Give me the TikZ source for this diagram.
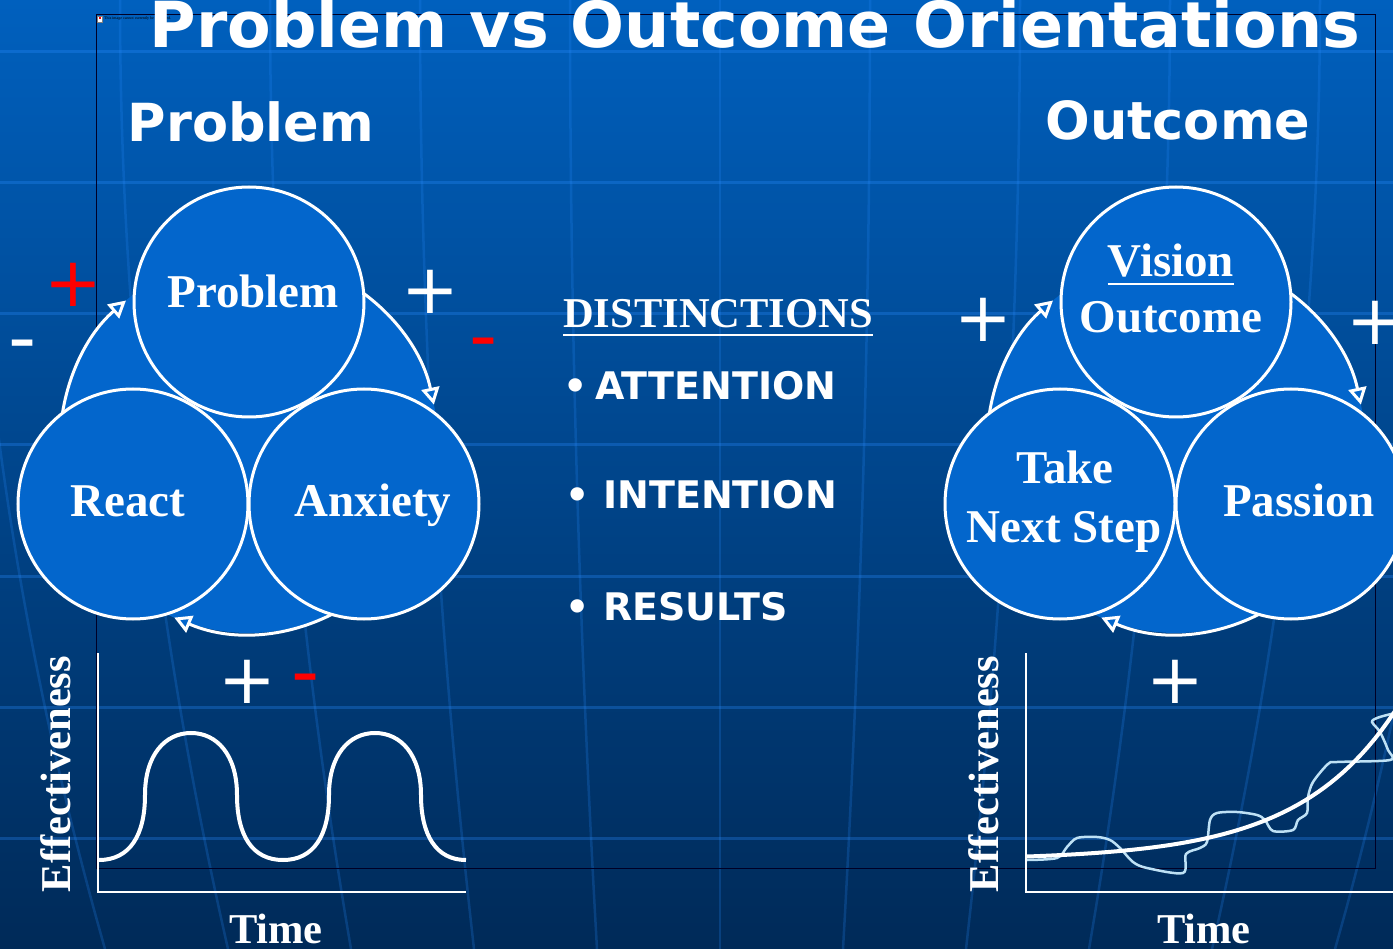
\documentclass[tikz,border=0pt]{standalone}
\usepackage{fontspec}
\setmainfont{Liberation Serif}
\newfontfamily\headfont{DejaVu Sans}
\usetikzlibrary{arrows.meta, positioning, calc}
\definecolor{bgtop}{RGB}{0,96,190}
\definecolor{bgbottom}{RGB}{0,42,88}
\definecolor{circblue}{RGB}{3,102,204}
\definecolor{gridblue}{RGB}{40,140,255}
\definecolor{wavelight}{RGB}{190,225,245}
\definecolor{signred}{RGB}{255,0,0}

\begin{document}
\begin{tikzpicture}[x=1pt, y=-1pt,
    bubble/.style={circle, draw=white, fill=circblue, line width=3pt, minimum size=230pt, inner sep=0pt},
    word/.style={text=white, inner sep=0pt, anchor=base, font=\bfseries\fontsize{47}{52}\selectfont},
    heading/.style={text=white, inner sep=0pt, anchor=base, font=\headfont\bfseries\fontsize{52.5}{60}\selectfont},
    item/.style={text=white, inner sep=0pt, anchor=base west, font=\headfont\bfseries\fontsize{38}{44}\selectfont},
    axislabel/.style={text=white, inner sep=0pt, anchor=base, font=\bfseries\fontsize{42.5}{48}\selectfont},
    sign/.style={inner sep=0pt, text=white, font=\headfont\fontsize{69}{70}\selectfont},
    minus/.style={sign, font=\headfont\fontsize{78}{80}\selectfont},
    cyc/.style={draw=white, line width=3pt, -{Triangle[length=17pt, width=18pt, fill=circblue]}},
    axis/.style={draw=white, line width=2pt},
    faint/.style={draw=gridblue, opacity=0.3, line width=3pt}
  ]
  \useasboundingbox (0,0) rectangle (1393,949);
  \shade[top color=bgtop, bottom color=bgbottom] (0,0) rectangle (1393,949);

  % globe lines in the background
  \foreach \y in {52,183,...,839}
    \draw[faint] (0,\y) -- (1393,\y);
  \foreach \d in {-750,-600,...,750}
    \draw[faint, opacity=0.22, line width=2.5pt] plot[domain=0:949, samples=25, smooth] ({720+\d*(1-0.18*(\x/949)^2)}, \x);

  % frame of the missing picture
  \draw[black!85!blue, line width=1pt] (96,15) rectangle (1375,868);
  \draw[gray, fill=white, line width=0.3pt] (97.5,16) rectangle (102,22);
  \fill[signred] (98.5,17) rectangle (100.5,19);
  \node[anchor=west, inner sep=0pt, text=black, font=\fontsize{4}{4}\selectfont] (broken) at (104,19) {This image cannot currently be displayed.};

  % the two cycles
  \foreach \dx/\side in {0/p, 927/o} {
    \coordinate (\side c) at (249+\dx,444);
    \fill[circblue] (\side c) circle[radius=189];
    \draw[cyc] ($(\side c)+(180:189)$) arc[start angle=180, end angle=229.4, radius=189];
    \draw[cyc] ($(\side c)+(290:189)$) arc[start angle=290, end angle=348, radius=189];
    \draw[cyc] ($(\side c)+(40:189)$) arc[start angle=40, end angle=113.3, radius=189];
    \node[bubble] (\side top) at (249+\dx,302) {};
    \node[bubble] (\side left) at (133+\dx,504) {};
    \node[bubble] (\side right) at (364+\dx,504) {};
  }

  \node[word] (problemword) at (253,308) {Problem};
  \node[word] (reactword) at (128,517) {React};
  \node[word] (anxietyword) at (373,517) {Anxiety};
  \node[word] (visionword) at (1171,277) {Vision};
  \draw[white, line width=2.5pt] ($(visionword.base west)+(0,7)$) -- ($(visionword.base east)+(0,7)$);
  \node[word] (outcomeword) at (1171,333) {Outcome};
  \node[word] (takeword) at (1065,484) {Take};
  \node[word] (stepword) at (1064,543) {Next Step};
  \node[word] (passionword) at (1299,517) {Passion};

  % headings
  \node[heading, font=\headfont\bfseries\fontsize{63.5}{70}\selectfont] (title) at (755,48) {Problem vs Outcome Orientations};
  \node[heading] (problemhead) at (251,142) {Problem};
  \node[heading] (outcomehead) at (1178,140) {Outcome};

  % distinctions list
  \node[word, font=\bfseries\fontsize{42.5}{48}\selectfont] (distinctions) at (718,328) {DISTINCTIONS};
  \draw[white, line width=2.5pt] ($(distinctions.base west)+(0,7)$) -- ($(distinctions.base east)+(0,7)$);
  \foreach \bx/\tx/\ty/\what in {576/595/400/ATTENTION, 578/603/508/INTENTION, 578/603/620/RESULTS} {
    \node[item, anchor=base] (dot\what) at (\bx,\ty) {•};
    \node[item] (\what) at (\tx,\ty) {\what};
  }

  % plus and minus signs
  \node[sign, text=signred] (plusa) at (73,285) {+};
  \node[minus] (minusa) at (23,352) {-};
  \node[sign] (plusb) at (430,292) {+};
  \node[minus, text=signred] (minusb) at (484,350) {-};
  \node[sign] (plusc) at (247,682) {+};
  \node[minus, text=signred] (minusc) at (306,686) {-};
  \node[sign] (plusd) at (983,320) {+};
  \node[sign] (pluse) at (1375,323) {+};
  \node[sign] (plusf) at (1175,682) {+};

  % problem graph
  \draw[axis] (98,653) -- (98,892) -- (466,892);
  \draw[white, line width=4pt] (99,860) .. controls (130,860) and (145,835) .. (145,795)
    .. controls (145,755) and (165,733) .. (191,733) .. controls (217,733) and (237,755) .. (237,795)
    .. controls (237,835) and (252,860) .. (283,860) .. controls (314,860) and (329,835) .. (329,795)
    .. controls (329,755) and (349,733) .. (375,733) .. controls (401,733) and (421,755) .. (421,795)
    .. controls (421,835) and (436,860) .. (466,860);
  \node[axislabel, rotate=90] (effleft) at (70,774) {Effectiveness};
  \node[axislabel] (timeleft) at (276,943) {Time};

  % outcome graph
  \draw[axis] (1026,653) -- (1026,892) -- (1400,892);
  \draw[wavelight, line width=2.5pt] plot[smooth, tension=0.5] coordinates {(1027,860) (1057,858) (1067,847) (1077,838) (1097,837) (1110,840) (1120,848) (1133,862) (1147,868) (1183,873) (1186,854) (1200,848) (1207,842) (1210,820) (1217,813) (1237,812) (1257,815) (1265,820) (1273,831) (1293,830) (1298,820) (1307,813) (1308,797) (1313,782) (1328,764) (1337,762) (1390,760) (1388,750) (1380,732) (1372,722) (1377,718) (1387,715) (1395,713)};
  \draw[white, line width=4pt] plot[domain=1027:1400, samples=60] (\x, {860-3.5*exp(0.0102*(\x-1027))});
  \node[axislabel, rotate=90] (effright) at (998,774) {Effectiveness};
  \node[axislabel] (timeright) at (1204,943) {Time};
\end{tikzpicture}
\end{document}
